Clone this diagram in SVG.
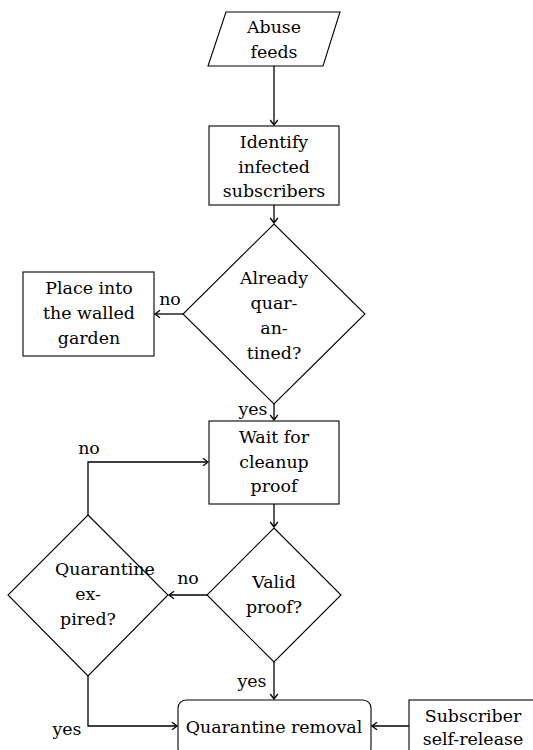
<svg xmlns="http://www.w3.org/2000/svg" width="533" height="750" viewBox="0 0 533 750">
<style>
.s{fill:#fff;stroke:#000;stroke-width:1.1}
.t{font-family:"DejaVu Serif","Liberation Serif",serif;font-size:17.4px;fill:#000;text-anchor:middle}
.c{fill:none;stroke:#000;stroke-width:1.3;marker-end:url(#a)}
</style>
<defs>
<marker id="a" markerUnits="userSpaceOnUse" markerWidth="10" markerHeight="10" refX="0" refY="0" viewBox="-6 -5 8 10" orient="auto">
<path d="M-5,-3.8 Q-1.3,-0.9 0,0 Q-1.3,0.9 -5,3.8" fill="none" stroke="#000" stroke-width="1.3"/>
</marker>
</defs>
<rect width="533" height="750" fill="#fff"/>
<g id="connectors">
<path class="c" d="M274,66 V125"/>
<path class="c" d="M274,205 V223"/>
<path class="c" d="M183,314 H155"/>
<path class="c" d="M274,404 V420"/>
<path class="c" d="M274,504 V527"/>
<path class="c" d="M207,595 H169"/>
<path class="c" d="M88,515 V462 H208"/>
<path class="c" d="M274,662 V699"/>
<path class="c" d="M88,676 V726 H177"/>
<path class="c" d="M409,726 H372"/>
<text class="t" x="170" y="305">no</text>
<text class="t" x="253" y="415">yes</text>
<text class="t" x="89" y="454">no</text>
<text class="t" x="188" y="584">no</text>
<text class="t" x="252" y="687">yes</text>
<text class="t" x="67" y="735">yes</text>
</g>
<g id="abuse">
<polygon class="s" points="226,12 340,12 323,66 208,66"/>
<text class="t" x="274" y="33">Abuse</text>
<text class="t" x="274" y="58">feeds</text>
</g>
<g id="identify">
<rect class="s" x="209" y="126" width="130" height="79"/>
<text class="t" x="274" y="148">Identify</text>
<text class="t" x="274" y="173">infected</text>
<text class="t" x="274" y="197">subscribers</text>
</g>
<g id="already">
<polygon class="s" points="274,224 365,314 274,404 183,314"/>
<text class="t" x="274" y="284">Already</text>
<text class="t" x="274" y="309">quar-</text>
<text class="t" x="274" y="334">an-</text>
<text class="t" x="274" y="359">tined?</text>
</g>
<g id="place">
<rect class="s" x="23" y="272" width="131" height="84"/>
<text class="t" x="89" y="294">Place into</text>
<text class="t" x="89" y="319">the walled</text>
<text class="t" x="89" y="344">garden</text>
</g>
<g id="wait">
<rect class="s" x="209" y="421" width="130" height="83"/>
<text class="t" x="274" y="443">Wait for</text>
<text class="t" x="274" y="468">cleanup</text>
<text class="t" x="274" y="492">proof</text>
</g>
<g id="valid">
<polygon class="s" points="274,528 341,595 274,662 207,595"/>
<text class="t" x="274" y="588">Valid</text>
<text class="t" x="274" y="613">proof?</text>
</g>
<g id="expired">
<polygon class="s" points="88,515 168,595 88,676 8,595"/>
<text class="t" x="55" y="575" style="text-anchor:start">Quarantine</text>
<text class="t" x="88" y="600">ex-</text>
<text class="t" x="88" y="625">pired?</text>
</g>
<g id="removal">
<rect class="s" x="178" y="700" width="193" height="56" rx="8"/>
<text class="t" x="274" y="733">Quarantine removal</text>
</g>
<g id="selfrelease">
<rect class="s" x="409" y="700" width="130" height="60"/>
<text class="t" x="473" y="722">Subscriber</text>
<text class="t" x="473" y="745">self-release</text>
</g>
</svg>
